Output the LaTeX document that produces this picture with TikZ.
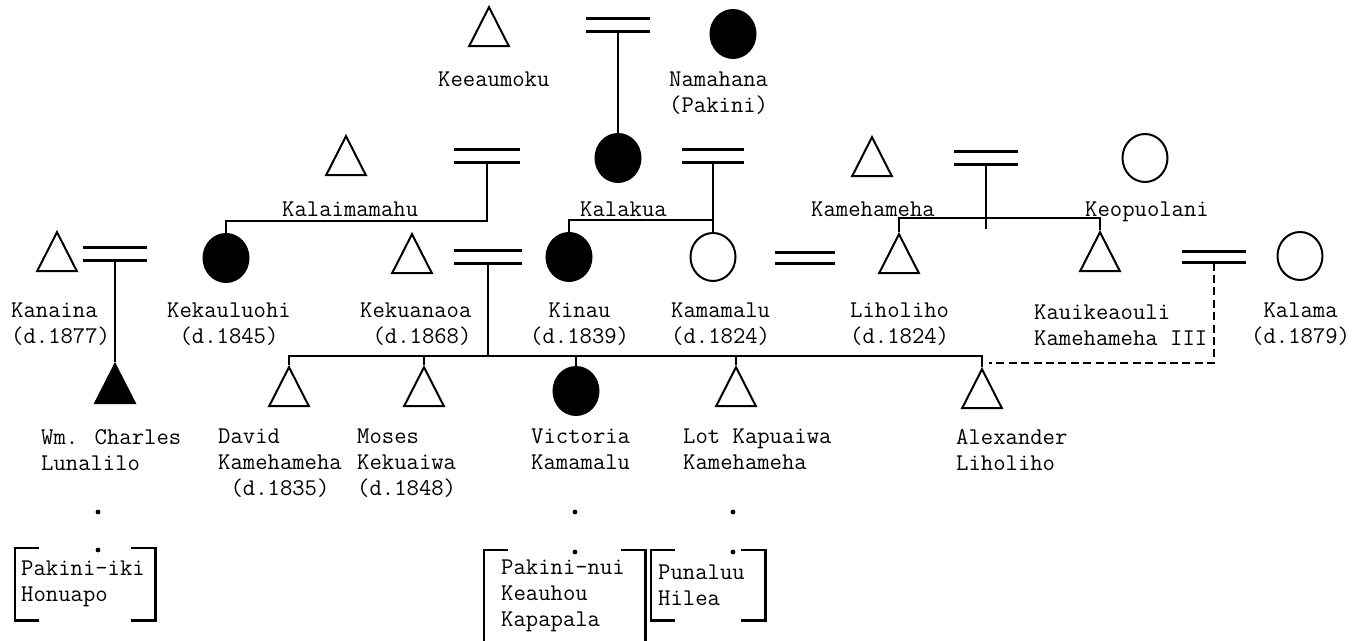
\documentclass[tikz,border=0pt]{standalone}
\usepackage{fontspec}
\usetikzlibrary{shapes.geometric}
\begin{document}
\begin{tikzpicture}[x=0.5pt,y=-0.5pt,line width=1.2pt]
	\tikzstyle{male} = [isosceles triangle,isosceles triangle apex angle=54,shape border rotate=90,draw,line width=1pt,inner sep=0,minimum width=19.5pt,minimum height=19.5pt]
	\tikzstyle{female} = [ellipse,draw,line width=1pt,inner sep=0,minimum width=22.5pt,minimum height=24pt]
	\tikzstyle{marr} = [inner sep=0,minimum width=30.5pt,minimum height=5.5pt,append after command={(\tikzlastnode.north west) edge[line width=1.4pt] (\tikzlastnode.north east) (\tikzlastnode.south west) edge[line width=1.4pt] (\tikzlastnode.south east)}]
	\tikzstyle{lbl} = [font=\fontsize{12}{13}\selectfont\ttfamily,inner sep=0,anchor=north west,align=left]
	\tikzstyle{place} = [font=\fontsize{12}{13}\selectfont\ttfamily,inner ysep=0,anchor=north west,align=left]
	\tikzstyle{dot} = [circle,fill=black,inner sep=0,minimum size=2.4pt]
	\useasboundingbox (0,0) rectangle (1362,641);
	% first generation
	\node[male](keeaumoku)at(489,34){};
	\node[marr](m0)at(618,25){};
	\node[female,fill=black](namahana)at(733,34){};
	\node[lbl](keeaumoku-l)at(437,71){Keeaumoku};
	\node[lbl](namahana-l)at(668,71){Namahana\\(Pakini)};
	% second generation
	\node[male](kalaimamahu)at(346,163){};
	\node[marr,minimum width=32pt](m1a)at(487,156){};
	\node[female,fill=black](kalakua)at(618,158){};
	\node[marr,minimum width=30pt](m1b)at(713,156){};
	\node[male](kamehameha)at(872,164){};
	\node[marr,minimum height=5pt](m1c)at(986,158){};
	\node[female](keopuolani)at(1145,158){};
	\node[lbl](kalaimamahu-l)at(281,201){Kalaimamahu};
	\node[lbl](kalakua-l)at(579,201){Kalakua};
	\node[lbl](kamehameha-l)at(810,201){Kamehameha};
	\node[lbl](keopuolani-l)at(1084,201){Keopuolani};
	% third generation
	\node[male](kanaina)at(57,259){};
	\node[marr](m2a)at(115,254){};
	\node[female,fill=black](kekauluohi)at(226,258){};
	\node[male](kekuanaoa)at(412,261){};
	\node[marr,minimum width=32.5pt,minimum height=5pt](m2b)at(488,257){};
	\node[female,fill=black](kinau)at(569,257){};
	\node[female](kamamalu)at(713,257){};
	\node[marr,minimum width=29pt,minimum height=4.5pt](m2c)at(805,258){};
	\node[male](liholiho)at(899,261){};
	\node[male](kauikeaouli)at(1100,259){};
	\node[marr,minimum height=4.5pt](m2d)at(1214,257){};
	\node[female](kalama)at(1300,256){};
	\node[lbl](kanaina-l)at(10,302){Kanaina\\(d.1877)};
	\node[lbl,align=center](kekauluohi-l)at(166,302){Kekauluohi\\(d.1845)};
	\node[lbl](kekuanaoa-l)at(359,302){Kekuanaoa\\\phantom{K}(d.1868)};
	\node[lbl,align=center](kinau-l)at(529,302){Kinau\\(d.1839)};
	\node[lbl](kamamalu-l)at(670,302){Kamamalu\\(d.1824)};
	\node[lbl](liholiho-l)at(849,302){Liholiho\\(d.1824)};
	\node[lbl](kauikeaouli-l)at(1033,304){Kauikeaouli\\Kamehameha III};
	\node[lbl,align=center](kalama-l)at(1250,302){Kalama\\(d.1879)};
	% fourth generation
	\node[male,fill=black](lunalilo)at(115,391){};
	\node[male](david)at(289,394){};
	\node[male](moses)at(424,394){};
	\node[female,fill=black](victoria)at(576,391){};
	\node[male](lot)at(736,394){};
	\node[male](alexander)at(982,396){};
	\node[lbl](lunalilo-l)at(40,428){Wm. Charles\\Lunalilo};
	\node[lbl](david-l)at(217,428){David\\Kamehameha\\\phantom{K}(d.1835)};
	\node[lbl](moses-l)at(356,428){Moses\\Kekuaiwa\\(d.1848)};
	\node[lbl](victoria-l)at(530,428){Victoria\\Kamamalu};
	\node[lbl](lot-l)at(682,428){Lot Kapuaiwa\\Kamehameha};
	\node[lbl](alexander-l)at(955,428){Alexander\\Liholiho};
	% lands
	\node[dot](d1)at(98,512){};
	\node[dot](d2)at(98,550){};
	\node[dot](d3)at(575,512){};
	\node[dot](d4)at(575,552){};
	\node[dot](d5)at(733,512){};
	\node[dot](d6)at(733,552){};
	\node[place,inner xsep=2.5pt,text width=64pt,minimum height=35pt](pk1)at(15,548){Pakini-iki\\Honuapo};
	\node[place,inner xsep=8pt,text width=63.5pt,minimum height=45pt](pk2)at(484,550){Pakini-nui\\Keauhou\\Kapapala};
	\node[place,inner xsep=3pt,text width=50pt,minimum height=34pt](pk3)at(651,550){Punaluu\\Hilea};
	\foreach \b in {pk1,pk2,pk3}{
		\draw ([xshift=12pt]\b.north west) -- (\b.north west) -- (\b.south west) -- ([xshift=12pt]\b.south west);
		\draw ([xshift=-12pt]\b.north east) -- (\b.north east) -- (\b.south east) -- ([xshift=-12pt]\b.south east);
	}
	% descent lines
	\coordinate (bar) at (488,356);
	\coordinate (adopt) at (989,363);
	\path (m0.south) edge (kalakua.north)
	(m1b.south) edge (kamamalu.north)
	(m2a.south) edge (lunalilo.north)
	(m2b.south) edge (bar);
	\draw (kekauluohi.north) -- ++(0,-12) -| (m1a.south);
	\draw (kinau.north) -- ++(0,-12) -| (m1b.south);
	\draw (liholiho.north) -- ++(0,-14) -| (kauikeaouli.north);
	\draw (m1c.south) -- ++(0,65);
	\draw (david.north) |- (bar) -| (alexander.north);
	\path (moses.north) edge (moses.north |- bar)
	(victoria.north) edge (victoria.north |- bar)
	(lot.north) edge (lot.north |- bar);
	\draw[line width=1.3pt,dash pattern=on 4pt off 2.2pt] (m2d.south) |- (adopt);
\end{tikzpicture}
\end{document}
